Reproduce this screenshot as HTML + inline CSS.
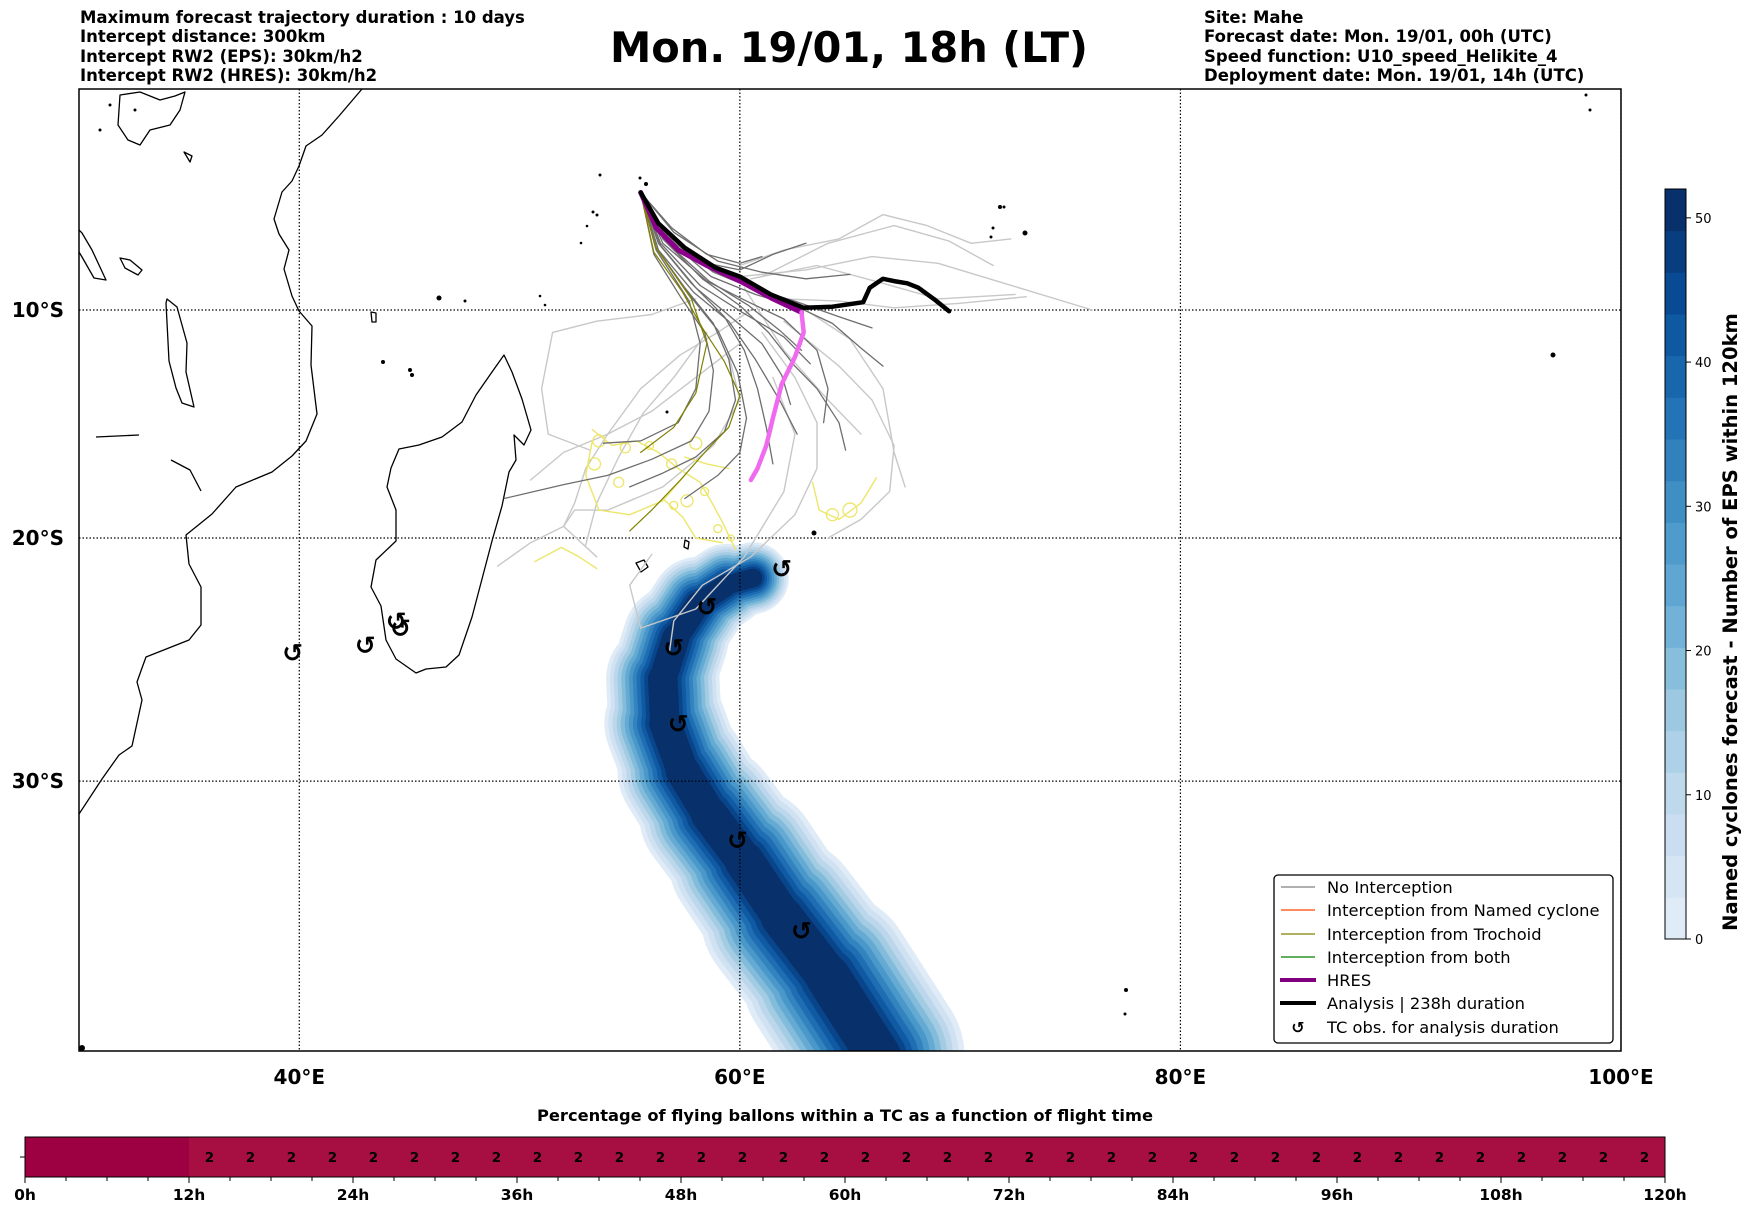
<!DOCTYPE html>
<html><head><meta charset="utf-8"><style>
html,body{margin:0;padding:0;background:#fff;}
body{width:1752px;height:1213px;overflow:hidden;font-family:"DejaVu Sans","Liberation Sans",sans-serif;}
svg text{font-family:"DejaVu Sans","Liberation Sans",sans-serif;}
</style></head><body>
<svg id="chart" width="1752" height="1213" viewBox="0 0 1752 1213" xmlns="http://www.w3.org/2000/svg">
<g font-weight="bold" font-size="16.5" fill="#000">
<text x="80" y="23">Maximum forecast trajectory duration : 10 days</text>
<text x="80" y="42">Intercept distance: 300km</text>
<text x="80" y="62">Intercept RW2 (EPS):  30km/h2</text>
<text x="80" y="81">Intercept RW2 (HRES): 30km/h2</text>
</g>
<text x="849" y="62" text-anchor="middle" font-weight="bold" font-size="41.5">Mon. 19/01, 18h (LT)</text>
<g font-weight="bold" font-size="16.5" fill="#000">
<text x="1204" y="23">Site: Mahe</text>
<text x="1204" y="42">Forecast date: Mon. 19/01, 00h (UTC)</text>
<text x="1204" y="62">Speed function: U10_speed_Helikite_4</text>
<text x="1204" y="81">Deployment date: Mon. 19/01, 14h (UTC)</text>
</g>
<defs><clipPath id="mapclip"><rect x="79" y="89" width="1542" height="962"/></clipPath></defs>
<g id="map" clip-path="url(#mapclip)">
<g id="band"></g>
<g id="coast" fill="none" stroke="#000" stroke-width="1.3" stroke-linejoin="round">
<path d="M362,89 L339,116 L322,135 L306,146 L299,166 L292,181 L282,192 L274,219 L279,234 L289,250 L284,269 L292,296 L299,311 L312,326 L311,365 L317,414 L306,441 L292,456 L272,472 L236,487 L212,514 L186,535 L189,564 L201,587 L201,625 L189,640 L146,657 L142,668 L137,682 L142,700 L132,746 L119,755 L102,779 L79,814"/>
<path d="M504,355 L512,372 L522,399 L531,430 L524,445 L514,435 L516,460 L509,472 L502,506 L492,541 L482,579 L472,617 L459,655 L446,667 L426,669 L416,673 L396,659 L386,640 L381,606 L371,587 L376,560 L396,541 L396,510 L387,487 L391,468 L399,449 L419,445 L442,437 L462,422 L476,395 L492,372 Z"/>
<path d="M167,299 L177,307 L187,343 L186,372 L194,407 L182,403 L176,388 L169,361 L166,303 Z"/>
<path d="M79,230 L82,233 L92,250 L106,280 L94,278 L82,257 L79,252"/>
<path d="M120,95 L140,92 L160,100 L175,96 L185,92 L180,110 L170,125 L150,130 L140,145 L128,140 L118,125 Z"/>
<path d="M120,258 L130,260 L142,270 L138,275 L125,268 Z"/>
<path d="M96,437 L139,435"/>
<path d="M171,460 L190,470 L201,491"/>
<path d="M184,152 L192,156 L190,162 Z"/>
<path d="M636,563 L644,560 L648,567 L641,572 Z"/>
<path d="M685,540 L689,542 L688,549 L684,547 Z"/>
<path d="M371,312 L376,313 L376,322 L372,322 Z"/>
</g>
<g fill="#000">
<circle cx="640" cy="178" r="1.5"/><circle cx="646" cy="184" r="2"/><circle cx="593" cy="212" r="1.5"/><circle cx="597" cy="215" r="1.5"/>
<circle cx="587" cy="226" r="1.3"/><circle cx="581" cy="243" r="1.3"/><circle cx="439" cy="298" r="2.5"/><circle cx="465" cy="301" r="1.5"/>
<circle cx="540" cy="296" r="1.3"/><circle cx="545" cy="305" r="1.3"/><circle cx="383" cy="362" r="2"/><circle cx="410" cy="370" r="2"/>
<circle cx="412" cy="375" r="2"/><circle cx="814" cy="533" r="2.5"/><circle cx="667" cy="412" r="1.5"/><circle cx="1000" cy="207" r="2"/>
<circle cx="1004" cy="207" r="1.5"/><circle cx="993" cy="228" r="1.5"/><circle cx="991" cy="237" r="1.5"/><circle cx="1553" cy="355" r="2.5"/>
<circle cx="1126" cy="990" r="2"/><circle cx="1125" cy="1014" r="1.5"/><circle cx="1586" cy="95" r="1.5"/><circle cx="1590" cy="110" r="1.5"/>
<circle cx="1025" cy="233" r="2.5"/><circle cx="1622" cy="130" r="1.5"/><circle cx="600" cy="175" r="1.5"/><circle cx="82" cy="1048" r="3"/>
<circle cx="100" cy="130" r="1.5"/><circle cx="135" cy="110" r="1.5"/><circle cx="110" cy="105" r="1.5"/>
</g>
<g id="grid" stroke="#000" stroke-width="1.2" stroke-dasharray="1.5,2"></g>
<g id="traj" fill="none" stroke-linejoin="round" stroke-linecap="round"></g>
<g id="obs"></g>
</g>
<rect x="79" y="89" width="1542" height="962" fill="none" stroke="#000" stroke-width="1.5"/>
<g id="axislabels" font-weight="bold" font-size="20"></g>
<g>
<rect x="1274" y="875" width="339" height="168" rx="4" fill="#fff" stroke="#000" stroke-width="1.3"/>
<g font-size="16.3" fill="#000">
<line x1="1281" y1="887" x2="1315" y2="887" stroke="#808080" stroke-width="1.3"/><text x="1327" y="893">No Interception</text>
<line x1="1281" y1="910" x2="1315" y2="910" stroke="#ff4500" stroke-width="1.3"/><text x="1327" y="916">Interception from Named cyclone</text>
<line x1="1281" y1="934" x2="1315" y2="934" stroke="#808000" stroke-width="1.3"/><text x="1327" y="940">Interception from Trochoid</text>
<line x1="1281" y1="957" x2="1315" y2="957" stroke="#008000" stroke-width="1.3"/><text x="1327" y="963">Interception from both</text>
<line x1="1280" y1="980" x2="1316" y2="980" stroke="#800080" stroke-width="4"/><text x="1327" y="986">HRES</text>
<line x1="1280" y1="1003" x2="1316" y2="1003" stroke="#000" stroke-width="4"/><text x="1327" y="1009">Analysis | 238h duration</text>
<text x="1298" y="1033" text-anchor="middle" font-weight="bold" font-size="16">↺</text><text x="1327" y="1033">TC obs. for analysis duration</text>
</g></g>
<g id="cbar"></g>
<text transform="translate(1737,622) rotate(-90)" text-anchor="middle" font-weight="bold" font-size="19.5">Named cyclones forecast - Number of EPS within 120km</text>
<text x="845" y="1121" text-anchor="middle" font-weight="bold" font-size="16.3">Percentage of flying ballons within a TC as a function of flight time</text>
<g id="timebar"></g>
</svg>
<script>
const NS='http://www.w3.org/2000/svg';
// ---- data ----
const lonTicks=[40,60,80,100];
const latTicks=[-10,-20,-30];
const analysisLon=[55.5,56.3,57.5,58.9,60.0,61.4,62.9,64.2,65.6,65.9,66.5,67.0,67.6,68.1,68.8,69.5];
const analysisLat=[-4.7,-6.1,-7.2,-8.1,-8.5,-9.3,-9.9,-9.85,-9.65,-9.0,-8.6,-8.7,-8.8,-9.0,-9.5,-10.05];
const hresLon=[55.5,56.2,57.2,58.5,60.0,61.5,62.8,62.9,62.5,61.9,61.5,61.2,60.8,60.5];
const hresLat=[-4.7,-6.3,-7.3,-8.0,-8.7,-9.5,-10.1,-11.0,-12.1,-13.3,-14.8,-16.0,-17.0,-17.5];
const obsLon=[61.9,58.5,57.0,57.2,59.9,62.8,44.6,44.4,43.0,39.7];
const obsLat=[-21.3,-22.9,-24.6,-27.7,-32.3,-35.7,-23.8,-23.5,-24.5,-24.8];
const bandLon=[60.6,59.4,58.1,57.1,56.5,56.6,57.4,58.6,60.2,61.9,64.0,66.3];
const bandLat=[-21.7,-22.0,-22.8,-24.2,-25.9,-27.7,-29.6,-31.3,-33.1,-35.2,-37.4,-40.2];
const bandSpread=[3.0,3.5,4.0,4.6,5.0,5.3,5.7,6.1,6.6,7.1,7.6,8.0];
const darkTraj=[
[[55.5,-4.7],[57,-6.5],[59,-7.8],[61,-8.3],[63,-8.6],[65,-8.4]],
[[55.5,-4.7],[56.8,-6.8],[58.8,-8.3],[60.5,-9.0],[62.5,-9.6],[64.5,-10.3],[66,-10.8]],
[[55.5,-4.7],[56.5,-6.8],[58.3,-8.6],[60,-9.8],[61.3,-11],[62.5,-12.5],[63.5,-13.5],[64.5,-15],[64.8,-16.2]],
[[55.5,-4.7],[56.3,-7],[57.8,-8.8],[59.3,-10.3],[60.2,-11.8],[60.8,-13.5],[61.2,-15.2],[61.5,-16.8]],
[[55.5,-4.7],[56.2,-7.2],[57.5,-9.0],[58.8,-10.6],[59.5,-12.2],[59.8,-14],[59.3,-15.4],[58.0,-16.5],[56.5,-17.2],[55,-17.8]],
[[55.5,-4.7],[56.3,-7.3],[57.9,-9.2],[59.5,-10.5],[60.7,-12.2],[61.8,-14],[62.6,-15.5]],
[[55.5,-4.7],[56.1,-7.5],[57.3,-9.4],[58.4,-11.0],[58.8,-12.7],[58.6,-14.5],[57.8,-15.8],[56,-16.6],[54,-17.3],[52,-17.7],[49.3,-18.3]],
[[55.5,-4.7],[56.4,-7.0],[58.2,-8.9],[60.1,-10.1],[62,-11.2],[63.2,-12.4]],
[[55.5,-4.7],[56.6,-6.6],[58.5,-7.9],[60.0,-8.2],[61.5,-7.5],[63,-7.0]],
[[55.5,-4.7],[56.2,-7.3],[57.7,-9.6],[58.2,-11.5],[58.0,-13.5],[57.2,-15.0],[55.5,-15.8],[53.8,-15.9]],
[[55.5,-4.7],[56.5,-7],[58.5,-8.7],[60.3,-9.6],[62,-10.4],[63.5,-11.8],[64,-13.5],[63.8,-15]],
[[55.5,-4.7],[56.2,-7.2],[57.6,-9.2],[59,-10.9],[59.9,-12.8],[60.3,-14.8],[60,-16.3],[59,-17.3],[57.5,-18.3]],
[[55.5,-4.7],[56.7,-6.8],[58.7,-8.5],[60.7,-9.3],[62.7,-9.9],[64.2,-10.6],[65.5,-11.7],[66.5,-12.5]],
[[55.5,-4.7],[56.9,-6.3],[58.5,-7.5],[60,-7.9],[61,-7.6]],
[[55.5,-4.7],[56.4,-7.1],[58.0,-9.0],[59.7,-10.4],[61.0,-11.5],[61.9,-12.9],[62.3,-14.2]],
[[55.5,-4.7],[56.6,-6.9],[58.6,-8.7],[60.4,-9.8],[61.8,-10.9],[62.8,-11.8]]
];
const oliveTraj=[
[[55.5,-4.7],[56.1,-7.4],[57.4,-9.2],[58.3,-10.8],[59.3,-12.3],[60.0,-13.8],[59.5,-15.2],[58.5,-16.2],[57.3,-17.5],[56,-18.8],[55,-19.7]],
[[55.5,-4.7],[56.2,-7.2],[57.8,-9.5],[58.5,-11.5],[58.0,-13.7],[57.0,-15.2],[55.5,-16.3]]
];
const lightTraj=[
[[60,-8],[62,-7.3],[64.5,-6.8],[66.5,-5.7],[68.5,-6.2],[70.5,-7.0],[72.3,-6.8]],
[[60,-8.5],[63,-8.2],[66,-7.6],[69,-7.9],[72,-8.8],[76,-10.0]],
[[60.5,-8.6],[63.5,-8.0],[66.5,-8.8],[69,-9.5],[72.5,-9.3]],
[[61,-8.5],[64,-7.0],[67,-6.2],[69.5,-6.9],[71.5,-8]],
[[58,-9.5],[56,-10.2],[53.5,-10.5],[51.5,-11],[51,-13.5],[51.3,-15.5],[53.2,-16.2]],
[[60.5,-10],[59,-11],[57.3,-12],[55.5,-13.5],[54,-15.5],[53,-17],[52.5,-18.5],[52,-19.5],[50.5,-20.2],[49,-21.2]],
[[61,-11],[62.5,-13],[63.5,-15],[63.5,-17],[62.5,-19],[60.5,-20.8],[58.3,-22.0],[57,-23.5],[56.8,-24.8]],
[[62,-10.5],[64.5,-12.5],[66,-14],[67,-16],[66.8,-18],[65.5,-19.2],[64,-20]],
[[60,-11.5],[58,-13],[56,-14.5],[54,-15.5],[52,-16.3],[50.5,-17.5]],
[[59.5,-12],[60,-14],[58.8,-16],[56.5,-17.8],[54,-18.8],[52.5,-18.8],[52,-19.5],[53.5,-20.8]],
[[61.5,-13],[62.5,-15.5],[62,-18],[60.2,-20.8],[58,-23],[55.5,-23.8],[55,-22],[56,-20.7]],
[[60.2,-9],[62,-11.8],[64,-14],[65.5,-15.5]],
[[58.5,-11],[57,-13],[55.6,-14.6],[54.5,-16.5],[53.5,-18.5],[53,-20.3]],
[[63,-10],[65,-11.3],[66.5,-13.5],[67,-16.3],[67.5,-17.8]],
[[62,-9.5],[64.5,-9.6],[67,-9.9],[70,-9.7],[73,-9.4]]
];
const yellowTraj=[
[[53.3,-15.3],[54.2,-16],[55.3,-15.8],[56.3,-16.3],[57.2,-17],[58.2,-17.6],[58.8,-18.6],[59.2,-19.3],[59.8,-20.5]],
[[53.3,-15.8],[53,-17.3],[53.6,-18.8],[55,-19.0],[56.5,-18.4],[57.5,-17.3]],
[[56.5,-18.3],[57.4,-19.1],[58.0,-20.0],[59.2,-20.2]],
[[63.3,-17.6],[63.6,-18.8],[64.5,-19.2],[65.5,-18.5],[66.2,-17.4]],
[[50.7,-21],[51.9,-20.4],[52.7,-20.8],[53.5,-21.3]],
[[57.5,-16.5],[58.5,-16.8],[59.5,-17.0]]
];
const yellowLoops=[[53.6,-15.8,6],[54.8,-16.1,5],[55.9,-16.0,4],[56.9,-16.8,5],[57.6,-18.4,6],[58.4,-18.0,4],[59.0,-19.6,4],[59.6,-20.0,3],[54.5,-17.6,5],[53.4,-16.8,6],[64.2,-19.0,6],[65.0,-18.8,7],[57.0,-18.6,4],[58.0,-15.9,6]];
const cbarTicks=[0,10,20,30,40,50];
const cbarMax=52;
const timeTicks=[0,12,24,36,48,60,72,84,96,108,120];
const timeVals=[0,0,0,0,2,2,2,2,2,2,2,2,2,2,2,2,2,2,2,2,2,2,2,2,2,2,2,2,2,2,2,2,2,2,2,2,2,2,2,2];
// ---- axes ----
const X0=79,X1=1621,LON0=30,LON1=100,Y0=89,K=1260;
function xs(lon){return X0+(lon-LON0)*(X1-X0)/(LON1-LON0);}
function merc(lat){const r=lat*Math.PI/180;return Math.log(Math.tan(Math.PI/4+r/2));}
function ys(lat){return Y0-K*merc(lat);}
function mk(tag,attrs,parent){const e=document.createElementNS(NS,tag);for(const k in attrs)e.setAttribute(k,attrs[k]);parent.appendChild(e);return e;}
function pts(arr){return arr.map(p=>xs(p[0]).toFixed(1)+','+ys(p[1]).toFixed(1)).join(' ');}
const BL=[[247,251,255],[222,235,247],[198,219,239],[158,202,225],[107,174,214],[66,146,198],[33,113,181],[8,81,156],[8,48,107]];
function blue(f){const p=f*(BL.length-1),i=Math.min(Math.floor(p),BL.length-2),t=p-i;const c=BL[i].map((v,k)=>Math.round(v+(BL[i+1][k]-v)*t));return `rgb(${c[0]},${c[1]},${c[2]})`;}
// grid
const grid=document.getElementById('grid');
lonTicks.forEach(l=>{const e=mk('line',{x1:xs(l),x2:xs(l),y1:89,y2:1051},grid);

});
latTicks.forEach(l=>{const e=mk('line',{x1:79,x2:1621,y1:ys(l),y2:ys(l)},grid);

});
const al=document.getElementById('axislabels');
lonTicks.forEach(l=>{const t=mk('text',{x:xs(l),y:1084,'text-anchor':'middle'},al);t.textContent=l+'°E';

});
latTicks.forEach(l=>{const t=mk('text',{x:64,y:ys(l)+7,'text-anchor':'end'},al);t.textContent=(-l)+'°S';

});
// band
const NL=12;
const band=document.getElementById('band');
const pxPerDeg=(X1-X0)/(LON1-LON0);
for(let li=0;li<NL;li++){
  const f=li/(NL-1);
  const c=blue(0.12+0.88*f);
  const frac=1-0.74*f;
  for(let i=0;i<bandLon.length-1;i++){
    const w=(bandSpread[i]+bandSpread[i+1])/2*frac*pxPerDeg;
    const e=mk('line',{x1:xs(bandLon[i]),y1:ys(bandLat[i]),x2:xs(bandLon[i+1]),y2:ys(bandLat[i+1]),stroke:c,'stroke-width':w.toFixed(1),'stroke-linecap':'round'},band);
    
    
  }
}
// trajectories
const tr=document.getElementById('traj');
lightTraj.forEach(t=>{const e=mk('polyline',{points:pts(t),stroke:'#c8c8c8','stroke-width':1.4},tr);

});
yellowTraj.forEach(t=>{const e=mk('polyline',{points:pts(t),stroke:'#ece66a','stroke-width':1.4},tr);

});
yellowLoops.forEach(p=>{const e=mk('circle',{cx:xs(p[0]),cy:ys(p[1]),r:p[2],stroke:'#ece66a','stroke-width':1.3,fill:'none'},tr);

});
darkTraj.forEach(t=>{const e=mk('polyline',{points:pts(t),stroke:'#6e6e6e','stroke-width':1.3},tr);

});
oliveTraj.forEach(t=>{const e=mk('polyline',{points:pts(t),stroke:'#808000','stroke-width':1.2},tr);

});
const hp=hresLon.map((l,i)=>[l,hresLat[i]]);
let e1=mk('polyline',{points:pts(hp.slice(0,7)),stroke:'#8b008b','stroke-width':5},tr);


let e2=mk('polyline',{points:pts(hp.slice(6)),stroke:'#f06af0','stroke-width':4.5},tr);


let e3=mk('polyline',{points:pts(analysisLon.map((l,i)=>[l,analysisLat[i]])),stroke:'#000','stroke-width':4.5},tr);


// obs
const ob=document.getElementById('obs');
obsLon.forEach((l,i)=>{const t=mk('text',{x:xs(l),y:ys(obsLat[i])+9,'text-anchor':'middle','font-weight':'bold','font-size':'25'},ob);t.textContent='↺';

});
// colorbar
const cb=document.getElementById('cbar');
const CB0=939,CB1=189,CBX=1665,CBW=21;
function cy(v){return CB0-(CB0-CB1)*v/cbarMax;}
const nsteps=18;
for(let i=0;i<nsteps;i++){
  const v0=cbarMax*i/nsteps,v1=cbarMax*(i+1)/nsteps,f=i/(nsteps-1);
  const e=mk('rect',{x:CBX,y:cy(v1),width:CBW,height:cy(v0)-cy(v1)+0.5,fill:blue(0.12+0.88*f)},cb);
  
  
}
mk('rect',{x:CBX,y:CB1,width:CBW,height:CB0-CB1,fill:'none',stroke:'#000','stroke-width':1},cb);
cbarTicks.forEach(v=>{mk('line',{x1:CBX+CBW,x2:CBX+CBW+5,y1:cy(v),y2:cy(v),stroke:'#000'},cb);
const t=mk('text',{x:CBX+CBW+9,y:cy(v)+5,'font-size':'13'},cb);t.textContent=v;

});
// timebar
const tb=document.getElementById('timebar');
const TX0=25,TX1=1665,TY0=1137,TY1=1177;
function tx(h){return TX0+(TX1-TX0)*h/120;}
timeVals.forEach((v,i)=>{
  const h=i*3;
  const e=mk('rect',{x:tx(h),y:TY0,width:tx(h+3)-tx(h)+0.5,height:TY1-TY0,fill:h<12?'#9e0142':'#a70f42'},tb);
  
  
  if(v>0){const t=mk('text',{x:(tx(h)+tx(h+3))/2,y:(TY0+TY1)/2+5,'text-anchor':'middle','font-weight':'bold','font-size':'13.5'},tb);t.textContent=v;
  
  }
});
mk('rect',{x:TX0,y:TY0,width:TX1-TX0,height:TY1-TY0,fill:'none',stroke:'#000','stroke-width':1},tb);
mk('line',{x1:TX0-5,x2:TX0,y1:(TY0+TY1)/2,y2:(TY0+TY1)/2,stroke:'#000'},tb);
for(let h=0;h<=120;h+=3){mk('line',{x1:tx(h),x2:tx(h),y1:TY1,y2:TY1+(h%12===0?6:4),stroke:'#000'},tb);}
timeTicks.forEach(h=>{const t=mk('text',{x:tx(h),y:1200,'text-anchor':'middle','font-weight':'bold','font-size':'15.5'},tb);t.textContent=h+'h';

});
</script>
</body></html>
